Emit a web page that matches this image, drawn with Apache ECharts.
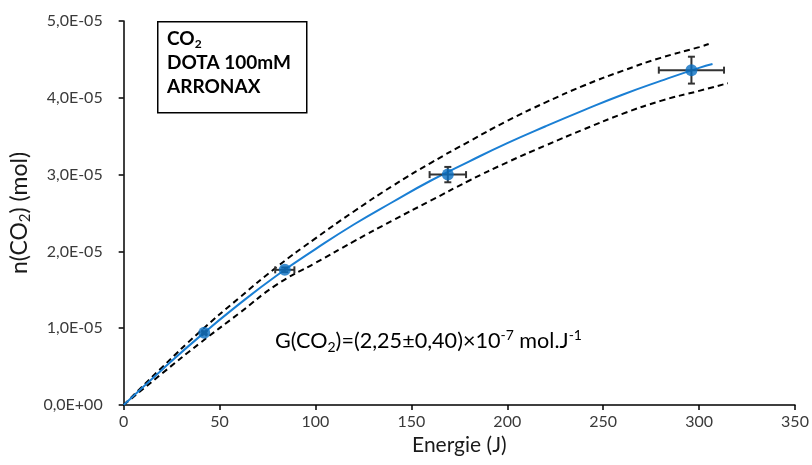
<!DOCTYPE html>
<html>
<head>
<meta charset="utf-8">
<script src="https://cdn.jsdelivr.net/npm/echarts@6/dist/echarts.min.js"></script>
<style>
html,body{margin:0;padding:0;background:#fff;}
#chart{width:812px;height:465px;}
</style>
</head>
<body>
<div id="chart"></div>
<script>
// Measured points
const energy = [42, 84, 169, 296];
const nCO2 = [0.94e-5, 1.76e-5, 3.0e-5, 4.36e-5];
const errEnergy = [1, 5, 9.5, 17];
const errN = [0.02e-5, 0.03e-5, 0.1e-5, 0.175e-5];

// Fit curve
const fitE = [0, 20, 40, 60, 80, 100, 120, 140, 160, 180, 200, 220, 240, 260, 280, 300, 307];
const fitN = [0, 0.46e-5, 0.90e-5, 1.31e-5, 1.69e-5, 2.03e-5, 2.35e-5, 2.64e-5, 2.92e-5, 3.17e-5, 3.41e-5, 3.63e-5, 3.84e-5, 4.04e-5, 4.22e-5, 4.39e-5, 4.44e-5];

// Upper confidence band
const upE = [0, 20, 40, 60, 80, 100, 120, 140, 160, 180, 200, 220, 240, 260, 280, 300, 305];
const upN = [0, 0.49e-5, 0.96e-5, 1.39e-5, 1.80e-5, 2.17e-5, 2.52e-5, 2.85e-5, 3.15e-5, 3.43e-5, 3.70e-5, 3.94e-5, 4.16e-5, 4.35e-5, 4.52e-5, 4.66e-5, 4.70e-5];

// Lower confidence band
const loE = [0, 20, 40, 60, 80, 100, 120, 140, 160, 180, 200, 220, 240, 260, 280, 300, 315];
const loN = [0, 0.41e-5, 0.81e-5, 1.19e-5, 1.57e-5, 1.85e-5, 2.13e-5, 2.40e-5, 2.66e-5, 2.92e-5, 3.16e-5, 3.38e-5, 3.59e-5, 3.79e-5, 3.96e-5, 4.09e-5, 4.19e-5];

// Axis ticks
const xMin = 0, xMax = 350, xStep = 50;
const yMin = 0, yMax = 5e-5, yStep = 1e-5;

const FONT = 'Lato, "Open Sans", sans-serif';

function zip(a, b) { return a.map((v, i) => [v, b[i]]); }

const chart = echarts.init(document.getElementById('chart'), null, {renderer: 'canvas'});

function fmtY(v) {
  if (Math.abs(v) < 1e-12) return '0,0E+00';
  const m = v / 1e-5;
  return m.toFixed(1).replace('.', ',') + 'E-05';
}

const errData = energy.map((e, i) => [e, nCO2[i], errEnergy[i], errN[i]]);

const option = {
  animation: false,
  backgroundColor: '#ffffff',
  grid: {left: 122, right: 17, top: 21, bottom: 60, containLabel: false},
  xAxis: {
    type: 'value', min: xMin, max: xMax, interval: xStep,
    name: 'Energie (J)', nameLocation: 'middle', nameGap: 27,
    nameTextStyle: {fontFamily: FONT, fontSize: 21, color: '#1a1a1a', verticalAlign: 'top'},
    axisLine: {lineStyle: {color: '#000', width: 1.5}},
    axisTick: {show: true, inside: false, length: 5, lineStyle: {color: '#000', width: 1.5}},
    axisLabel: {fontFamily: FONT, fontSize: 16, color: '#3a3a3a', margin: 9},
    splitLine: {show: false}
  },
  yAxis: {
    type: 'value', min: yMin, max: yMax, interval: yStep,
    name: '{a|n(CO}{s|2}{a|) (mol)}', nameLocation: 'middle', nameGap: 73, nameRotate: 90,
    nameTextStyle: {
      rich: {
        a: {fontFamily: FONT, fontSize: 23, color: '#1a1a1a', lineHeight: 26},
        s: {fontFamily: FONT, fontSize: 15, color: '#1a1a1a', lineHeight: 15, verticalAlign: 'bottom'}
      }
    },
    axisLine: {show: true, lineStyle: {color: '#000', width: 1.5}},
    axisTick: {show: true, inside: false, length: 5, lineStyle: {color: '#000', width: 1.5}},
    axisLabel: {fontFamily: FONT, fontSize: 16, color: '#3a3a3a', margin: 21, formatter: fmtY},
    splitLine: {show: false}
  },
  graphic: [
    {
      type: 'rect', left: 157, top: 21, z: 10,
      shape: {width: 149, height: 91},
      style: {fill: '#fff', stroke: '#000', lineWidth: 1.5}
    },
    {
      type: 'text', left: 167, top: 29, z: 11,
      style: {
        text: '{b|CO}{bs|2}\n{b|DOTA 100mM}\n{b|ARRONAX}',
        rich: {
          b: {fontFamily: FONT, fontSize: 19, fontWeight: 'bold', color: '#000', lineHeight: 24},
          bs: {fontFamily: FONT, fontSize: 12, fontWeight: 'bold', color: '#000', lineHeight: 12, verticalAlign: 'bottom'}
        }
      }
    },
    {
      type: 'text', left: 275, top: 328, z: 11,
      style: {
        text: '{m|G(CO}{s|2}{m|)=(2,25±0,40)×10}{p|-7}{m| mol.J}{p|-1}',
        rich: {
          m: {fontFamily: FONT, fontSize: 21.6, color: '#1a1a1a', lineHeight: 26},
          s: {fontFamily: FONT, fontSize: 14, color: '#1a1a1a', lineHeight: 13, verticalAlign: 'bottom'},
          p: {fontFamily: FONT, fontSize: 14, color: '#1a1a1a', lineHeight: 16, verticalAlign: 'top'}
        }
      }
    }
  ],
  series: [
    {
      type: 'line', name: 'upper', data: zip(upE, upN), smooth: true, showSymbol: false,
      lineStyle: {color: '#000', width: 2, type: [6, 4]}, z: 2
    },
    {
      type: 'line', name: 'lower', data: zip(loE, loN), smooth: true, showSymbol: false,
      lineStyle: {color: '#000', width: 2, type: [6, 4]}, z: 2
    },
    {
      type: 'line', name: 'fit', data: zip(fitE, fitN), smooth: true, showSymbol: false,
      lineStyle: {color: '#1a7fd4', width: 2}, z: 3
    },
    {
      type: 'custom', name: 'err', data: errData, z: 4,
      renderItem: function (params, api) {
        const x = api.value(0), y = api.value(1), ex = api.value(2), ey = api.value(3);
        const c = api.coord([x, y]);
        const l = api.coord([x - ex, y]);
        const r = api.coord([x + ex, y]);
        const t = api.coord([x, y + ey]);
        const b = api.coord([x, y - ey]);
        const cap = 3.5;
        const st = {stroke: '#333', lineWidth: 2};
        return {
          type: 'group',
          children: [
            {type: 'line', shape: {x1: l[0], y1: c[1], x2: r[0], y2: c[1]}, style: st},
            {type: 'line', shape: {x1: l[0], y1: c[1] - cap, x2: l[0], y2: c[1] + cap}, style: st},
            {type: 'line', shape: {x1: r[0], y1: c[1] - cap, x2: r[0], y2: c[1] + cap}, style: st},
            {type: 'line', shape: {x1: c[0], y1: t[1], x2: c[0], y2: b[1]}, style: st},
            {type: 'line', shape: {x1: c[0] - cap, y1: t[1], x2: c[0] + cap, y2: t[1]}, style: st},
            {type: 'line', shape: {x1: c[0] - cap, y1: b[1], x2: c[0] + cap, y2: b[1]}, style: st}
          ]
        };
      }
    },
    {
      type: 'scatter', name: 'data', data: zip(energy, nCO2), symbol: 'circle', symbolSize: 12,
      itemStyle: {color: '#0a6fc2'}, z: 5
    }
  ]
};
chart.setOption(option);
</script>
</body>
</html>
